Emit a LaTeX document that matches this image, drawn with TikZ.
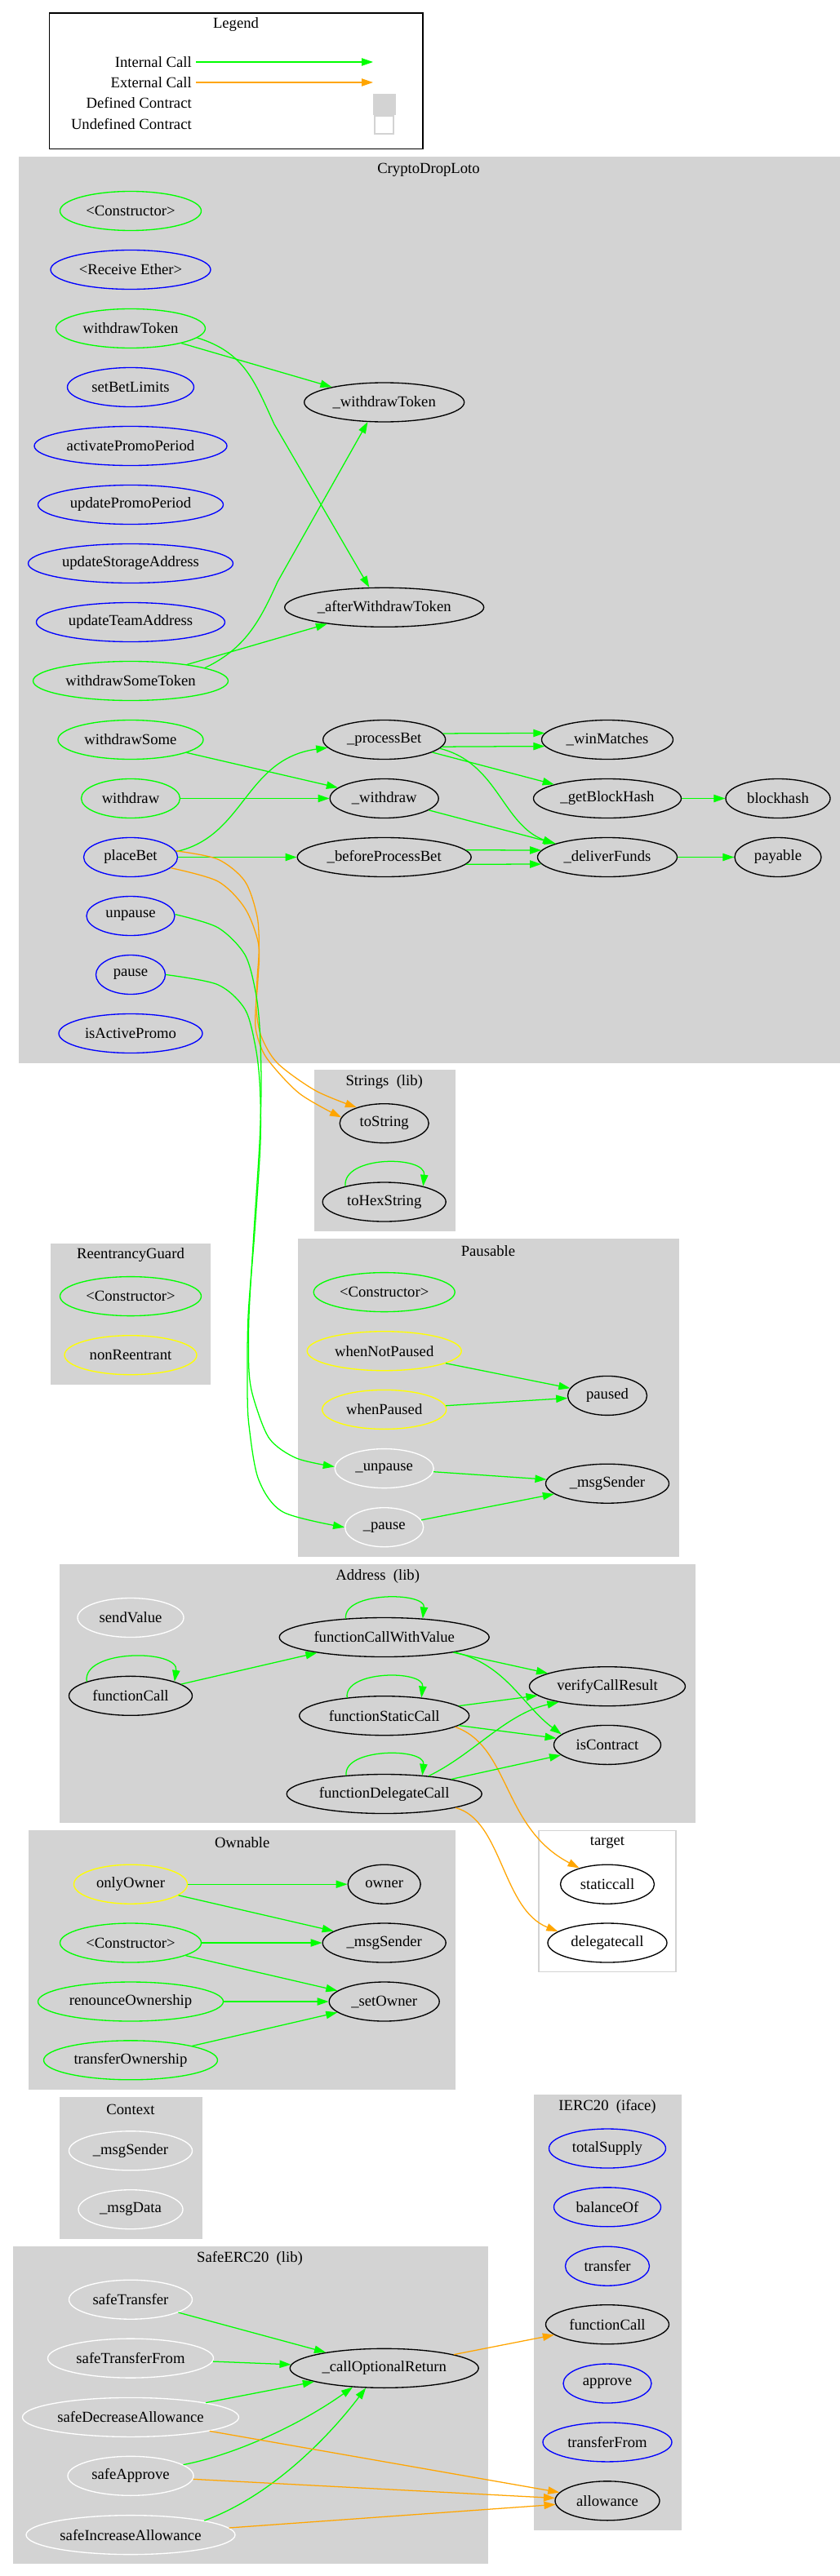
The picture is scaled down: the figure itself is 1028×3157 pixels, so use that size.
\documentclass[tikz,border=0pt]{standalone}
\usepackage{fontspec}
\setmainfont{Liberation Serif}
\usetikzlibrary{arrows.meta,shapes.geometric}
\definecolor{lgray}{HTML}{D3D3D3}
\definecolor{cgreen}{HTML}{00FF00}
\definecolor{corange}{HTML}{FFA500}
\definecolor{cblue}{HTML}{0000FF}
\definecolor{cyellow}{HTML}{FFFF00}
\newcommand\dfont{\fontsize{14pt}{16pt}\selectfont}
\tikzset{
  fn/.style={ellipse, draw, inner sep=0pt, minimum height=36pt, line width=1pt, text=black},
  W/.style={minimum width=#1*0.75pt},
  gn/.style={fn, draw=cgreen},
  bn/.style={fn, draw=cblue},
  yn/.style={fn, draw=cyellow},
  wn/.style={fn, draw=white},
  kn/.style={fn, draw=black},
  cl/.style={fill=lgray, draw=lgray, line width=0.75pt},
  ttl/.style={inner sep=0pt},
  ic/.style={draw=cgreen, line width=0.95pt, -{Triangle[length=10.5pt,width=7pt]}},
  ec/.style={draw=corange, line width=0.95pt, -{Triangle[length=10.5pt,width=7pt]}},
}
\begin{document}
\begin{tikzpicture}[x=0.75pt,y=-0.75pt,every node/.append style={font=\dfont}]
\useasboundingbox[fill=white] (0,0) rectangle (1028,3157);

% ---------- Legend ----------
\draw[line width=0.9pt] (60.7,16) rectangle (518,182.6);
\node[ttl] (lgt) at (289,30) {Legend};
\node[anchor=east, inner sep=3.75pt] (lint) at (240,76) {Internal Call};
\node[anchor=east, inner sep=3.75pt] (lext) at (240,101) {External Call};
\node[anchor=east, inner sep=3.75pt] (ldefT) at (240,126) {Defined Contract};
\node[anchor=east, inner sep=3.75pt] (lundT) at (240,152) {Undefined Contract};
\coordinate (linte) at (457,76);
\coordinate (lexte) at (457,101);
\draw[ic] (lint.east) -- (linte);
\draw[ec] (lext.east) -- (lexte);
\node[fill=lgray, draw=lgray, inner sep=0pt, minimum width=27*0.75pt, minimum height=25*0.75pt] (ldef) at (470.5,127.5) {};
\node[fill=white, draw=lgray, line width=0.9pt, inner sep=0pt, minimum width=23*0.75pt, minimum height=22*0.75pt] (lund) at (470.5,153) {};

% ---------- Clusters ----------
\path[cl] (23,193) rectangle (1028,1302);
\path[cl] (385,1311.6) rectangle (557,1508);
\path[cl] (62.7,1524) rectangle (257,1696);
\path[cl] (365,1518.5) rectangle (831,1907.4);
\path[cl] (73,1917) rectangle (851,2233.7);
\draw[fill=white, draw=lgray, line width=0.9pt] (660,2243.7) rectangle (828,2416.2);
\path[cl] (35.3,2243.7) rectangle (557.3,2560.6);
\path[cl] (73.3,2570.4) rectangle (247.3,2743);
\path[cl] (654,2567.5) rectangle (834,3100.1);
\path[cl] (16,2753.2) rectangle (597.3,3141.6);

\node[ttl] (t_cdl) at (525,208) {CryptoDropLoto};
\node[ttl] (t_str) at (470.7,1326.5) {Strings\ \ (lib)};
\node[ttl] (t_rg) at (160,1538.4) {ReentrancyGuard};
\node[ttl] (t_pau) at (598,1533.4) {Pausable};
\node[ttl] (t_adr) at (462.7,1932.3) {Address\ \ (lib)};
\node[ttl] (t_tgt) at (744,2258.6) {target};
\node[ttl] (t_own) at (296.7,2258.2) {Ownable};
\node[ttl] (t_ctx) at (160,2585) {Context};
\node[ttl] (t_ierc) at (744,2582.2) {IERC20\ \ (iface)};
\node[ttl] (t_safe) at (306,2768.2) {SafeERC20\ \ (lib)};

% ---------- CryptoDropLoto nodes ----------
\node[gn, W=173] (c_ctor) at (160,258.5) {<Constructor>};
\node[bn, W=196] (c_recv) at (160,330.5) {<Receive Ether>};
\node[gn, W=183] (c_wt) at (160,402.5) {withdrawToken};
\node[bn, W=155] (c_sbl) at (160,474.5) {setBetLimits};
\node[bn, W=236] (c_app) at (160,546.5) {activatePromoPeriod};
\node[bn, W=227] (c_upp) at (160,618.5) {updatePromoPeriod};
\node[bn, W=251] (c_usa) at (160,690.5) {updateStorageAddress};
\node[bn, W=231] (c_uta) at (160,762.5) {updateTeamAddress};
\node[gn, W=239] (c_wst) at (160,834.5) {withdrawSomeToken};
\node[gn, W=178] (c_wsome) at (160,906.5) {withdrawSome};
\node[gn, W=121] (c_wd) at (160,978.5) {withdraw};
\node[bn, W=115] (c_pb) at (160,1050.5) {placeBet};
\node[bn, W=108] (c_unp) at (160,1122.5) {unpause};
\node[bn, W=85] (c_pau) at (160,1194.5) {pause};
\node[bn, W=176] (c_iap) at (160,1266.5) {isActivePromo};
\node[kn, W=196] (c_iwt) at (470.7,493) {\_withdrawToken};
\node[kn, W=244] (c_awt) at (470.7,744.3) {\_afterWithdrawToken};
\node[kn, W=150] (c_pr) at (470.7,906.5) {\_processBet};
\node[kn, W=133] (c_iwd) at (470.7,978.5) {\_withdraw};
\node[kn, W=213] (c_bpb) at (470.7,1050.5) {\_beforeProcessBet};
\node[kn, W=161] (c_wm) at (744,906.5) {\_winMatches};
\node[kn, W=181] (c_gbh) at (744,978.5) {\_getBlockHash};
\node[kn, W=171] (c_df) at (744,1050.5) {\_deliverFunds};
\node[kn, W=128] (c_bh) at (953,978.5) {blockhash};
\node[kn, W=106] (c_pay) at (953,1050.5) {payable};

% ---------- Strings ----------
\node[kn, W=109] (s_ts) at (470.7,1376.7) {toString};
\node[kn, W=151] (s_ths) at (470.7,1473) {toHexString};

% ---------- ReentrancyGuard ----------
\node[gn, W=173] (r_ctor) at (160,1588.6) {<Constructor>};
\node[yn, W=162] (r_nr) at (160,1660.7) {nonReentrant};

% ---------- Pausable ----------
\node[gn, W=173] (p_ctor) at (470.7,1583.6) {<Constructor>};
\node[yn, W=189] (p_wnp) at (470.7,1655.7) {whenNotPaused};
\node[yn, W=152] (p_wp) at (470.7,1727.4) {whenPaused};
\node[wn, W=121] (p_unp) at (470.7,1799.6) {\_unpause};
\node[wn, W=96] (p_pau) at (470.7,1871.7) {\_pause};
\node[kn, W=97] (p_paused) at (744,1710.4) {paused};
\node[kn, W=151] (p_ms) at (744,1818.2) {\_msgSender};

% ---------- Address ----------
\node[wn, W=130] (a_sv) at (160,1982.5) {sendValue};
\node[kn, W=151] (a_fc) at (160,2078.3) {functionCall};
\node[kn, W=257] (a_fcv) at (470.7,2006.5) {functionCallWithValue};
\node[kn, W=208] (a_fsc) at (470.7,2102.7) {functionStaticCall};
\node[kn, W=239] (a_fdc) at (470.7,2198.5) {functionDelegateCall};
\node[kn, W=191] (a_vcr) at (744,2066.7) {verifyCallResult};
\node[kn, W=131] (a_ic) at (744,2138.4) {isContract};

% ---------- target ----------
\node[kn, W=115] (t_sc) at (744,2309.2) {staticcall};
\node[kn, W=146] (t_dc) at (744,2381) {delegatecall};

% ---------- Ownable ----------
\node[yn, W=139] (o_oo) at (160,2309.2) {onlyOwner};
\node[kn, W=89] (o_owner) at (470.7,2309.2) {owner};
\node[gn, W=173] (o_ctor) at (160,2381) {<Constructor>};
\node[kn, W=151] (o_ms) at (470.7,2381) {\_msgSender};
\node[gn, W=227] (o_ro) at (160,2453) {renounceOwnership};
\node[kn, W=135] (o_so) at (470.7,2453) {\_setOwner};
\node[gn, W=213] (o_to) at (160,2524.8) {transferOwnership};

% ---------- Context ----------
\node[wn, W=151] (x_ms) at (160,2635.8) {\_msgSender};
\node[wn, W=128] (x_md) at (160,2707.7) {\_msgData};

% ---------- IERC20 ----------
\node[bn, W=143] (i_ts) at (744,2633) {totalSupply};
\node[bn, W=131] (i_bo) at (744,2704.8) {balanceOf};
\node[bn, W=103] (i_tr) at (744,2777.2) {transfer};
\node[kn, W=151] (i_fc) at (744,2848.7) {functionCall};
\node[bn, W=108] (i_ap) at (744,2921) {approve};
\node[bn, W=158] (i_tf) at (744,2992.9) {transferFrom};
\node[kn, W=128] (i_al) at (744,3064.8) {allowance};

% ---------- SafeERC20 ----------
\node[wn, W=151] (e_st) at (160,2818.2) {safeTransfer};
\node[wn, W=203] (e_stf) at (160,2890.1) {safeTransferFrom};
\node[wn, W=265] (e_sda) at (160,2962.4) {safeDecreaseAllowance};
\node[wn, W=154] (e_sa) at (160,3034.3) {safeApprove};
\node[wn, W=256] (e_sia) at (160,3106.6) {safeIncreaseAllowance};
\node[kn, W=231] (e_cor) at (470.7,2902.3) {\_callOptionalReturn};

% ---------- Edges: CryptoDropLoto ----------
\draw[ic] (c_wt) -- (c_iwt);
\draw[ic] (c_wt.352) .. controls (300,432) and (312,468) .. (336,520) -- (c_awt.127);
\draw[ic] (c_wst.10) .. controls (300,795) and (318,762) .. (340,713) -- (c_iwt.230);
\draw[ic] (c_wst) -- (c_awt);
\draw[ic] (c_wsome) -- (c_iwd);
\draw[ic] (c_wd) -- (c_iwd);
\draw[ic] (c_pb.7) .. controls (300,1025) and (300,930) .. (c_pr.188);
\draw[ic] (c_pb) -- (c_bpb);
\draw[ic] (c_pr.6) -- (c_wm.174);
\draw[ic] (c_pr.353) -- (c_wm.186);
\draw[ic] (c_pr) -- (c_gbh);
\draw[ic] (c_pr.351) .. controls (610,935) and (615,1010) .. (c_df.166);
\draw[ic] (c_iwd) -- (c_df);
\draw[ic] (c_bpb.5) -- (c_df.174);
\draw[ic] (c_bpb.355) -- (c_df.186);
\draw[ic] (c_gbh) -- (c_bh);
\draw[ic] (c_df) -- (c_pay);
\draw[ec] plot[smooth] coordinates {(c_pb.8) (266.7,1053) (300,1080) (315,1123) (317.3,1163) (315,1200) (314,1237) (320,1270) (340,1303) (386.7,1336.7) (s_ts.150)};
\draw[ec] plot[smooth] coordinates {(c_pb.345) (266.7,1080) (300,1113) (316.7,1157) (316,1200) (313,1240) (314,1265) (326.7,1296.7) (366.7,1340) (s_ts.172)};
\draw[ic] plot[smooth] coordinates {(c_unp.2) (266.7,1136.7) (300,1170) (313.3,1216.7) (318.3,1263) (320,1330) (318,1400) (311,1510) (305,1613) (305,1680) (311,1715) (330,1763) (363,1787) (p_unp.178)};
\draw[ic] plot[smooth] coordinates {(c_pau.0) (266.7,1206.7) (300,1236.7) (313,1283) (318.3,1330) (319,1400) (312,1510) (304,1613) (303,1700) (305,1747) (316.7,1813) (346.7,1853) (p_pau.180)};

% ---------- Edges: Strings ----------
\draw[ic] (s_ths.158) .. controls +(-4,-38) and +(4,-38) .. (s_ths.22);

% ---------- Edges: Pausable ----------
\draw[ic] (p_wnp) -- (p_paused);
\draw[ic] (p_wp) -- (p_paused);
\draw[ic] (p_unp) -- (p_ms);
\draw[ic] (p_pau) -- (p_ms);

% ---------- Edges: Address ----------
\draw[ic] (a_fc.162) .. controls +(-6,-40) and +(6,-40) .. (a_fc.18);
\draw[ic] (a_fc) -- (a_fcv);
\draw[ic] (a_fcv.154) .. controls +(-4,-33) and +(4,-33) .. (a_fcv.26);
\draw[ic] (a_fcv) -- (a_vcr);
\draw[ic] (a_fcv.348) .. controls (620,2040) and (640,2090) .. (a_ic.167);
\draw[ic] (a_fsc.154) .. controls +(-4,-34) and +(4,-34) .. (a_fsc.26);
\draw[ic] (a_fsc) -- (a_vcr);
\draw[ic] (a_fsc) -- (a_ic);
\draw[ec] (a_fsc.351) .. controls (625,2140) and (615,2240) .. (t_sc.150);
\draw[ic] (a_fdc.154) .. controls +(-4,-34) and +(4,-34) .. (a_fdc.26);
\draw[ic] (a_fdc.22) .. controls (580,2150) and (620,2100) .. (a_vcr.198);
\draw[ic] (a_fdc) -- (a_ic);
\draw[ec] (a_fdc.349) .. controls (615,2230) and (615,2340) .. (t_dc.167);

% ---------- Edges: Ownable ----------
\draw[ic] (o_oo) -- (o_owner);
\draw[ic] (o_oo) -- (o_ms);
\draw[ic] (o_ctor) -- (o_ms);
\draw[ic] (o_ctor) -- (o_so);
\draw[ic] (o_ro) -- (o_so);
\draw[ic] (o_to) -- (o_so);

% ---------- Edges: SafeERC20 ----------
\draw[ic] (e_st) -- (e_cor);
\draw[ic] (e_stf) -- (e_cor);
\draw[ic] (e_sda) -- (e_cor);
\draw[ic] (e_sa.12) .. controls (290,3008) and (370,2970) .. (e_cor.211);
\draw[ic] (e_sia.11) .. controls (330,3060) and (400,2990) .. (e_cor.227);
\draw[ec] (e_cor) -- (i_fc);
\draw[ec] (e_sda) -- (i_al);
\draw[ec] (e_sa) -- (i_al);
\draw[ec] (e_sia) -- (i_al);
\end{tikzpicture}
\end{document}
